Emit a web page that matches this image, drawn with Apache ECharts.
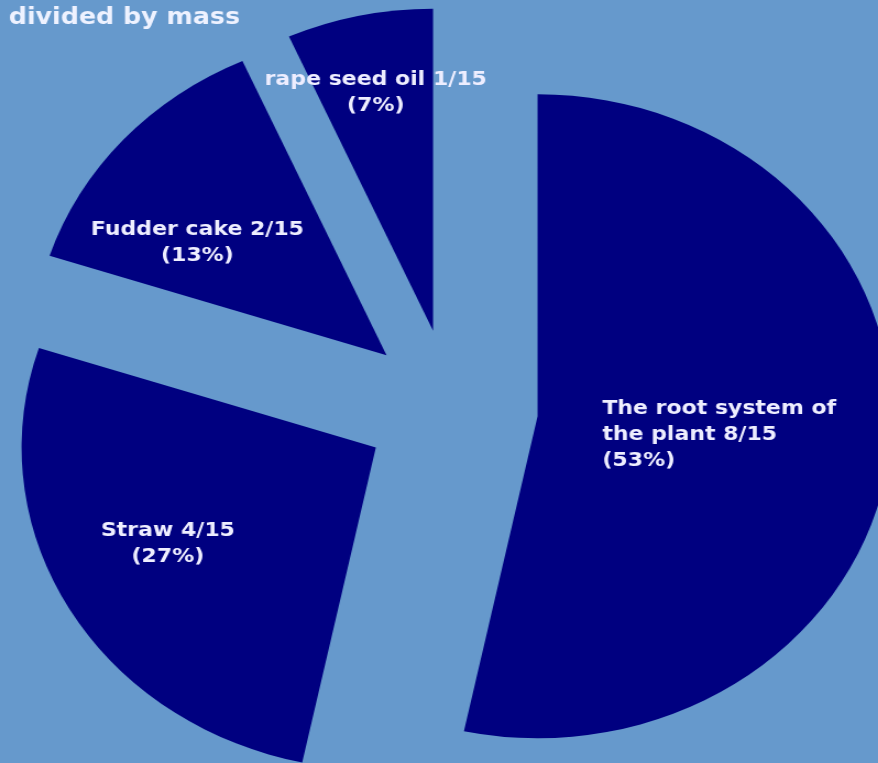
<!DOCTYPE html>
<html>
<head>
<meta charset="utf-8">
<script src="https://cdn.jsdelivr.net/npm/echarts@6/dist/echarts.min.js"></script>
<style>
  html, body { margin: 0; padding: 0; overflow: hidden; background: #6699cc; }
  /* the source picture is stretched horizontally, so stretch the chart the same way */
  #main { width: 798px; height: 763px; transform: scaleX(1.1003); transform-origin: 0 0; }
</style>
</head>
<body>
<div id="main"></div>
<script>
const parts = ['The root system of\nthe plant', 'Straw', 'Fudder cake', 'rape seed oil']
const shares = [8, 4, 2, 1]
const total = 15

// label nudges (the source places them by hand)
const labelShift = [[2, 1], [-47, 14], [-50, -3], [-18, -78]]

const chart = echarts.init(document.getElementById('main'))

chart.setOption({
  backgroundColor: '#6699cc',
  animation: false,
  title: {
    text: 'divided by mass',
    left: 3,
    top: 2,
    textStyle: { color: '#eef2ff', fontFamily: 'DejaVu Sans', fontWeight: 'bold', fontSize: 23 },
  },
  series: [
    {
      type: 'pie',
      center: [410, 408],
      radius: 322,
      startAngle: 90,
      clockwise: true,
      selectedMode: 'multiple',
      selectedOffset: 79,
      avoidLabelOverlap: false,
      itemStyle: { color: '#000080', borderWidth: 0 },
      emphasis: { disabled: true },
      labelLine: { show: false },
      label: {
        show: true,
        position: 'inside',
        color: '#eeeeff',
        fontFamily: 'DejaVu Sans',
        fontWeight: 'bold',
        fontSize: 20,
        lineHeight: 26,
        formatter: (p) => {
          const text = p.name + ' ' + p.value + '/' + total + '\n(' + Math.round((p.value / total) * 100) + '%)'
          return p.dataIndex === 0 ? '{l|' + text + '}' : text
        },
        rich: {
          l: { align: 'left', color: '#eeeeff', fontFamily: 'DejaVu Sans', fontWeight: 'bold', fontSize: 20, lineHeight: 26 },
        },
      },
      labelLayout: (p) => ({ dx: labelShift[p.dataIndex][0], dy: labelShift[p.dataIndex][1] }),
      data: parts.map((name, i) => ({ name, value: shares[i], selected: true })),
    },
  ],
})
</script>
</body>
</html>
